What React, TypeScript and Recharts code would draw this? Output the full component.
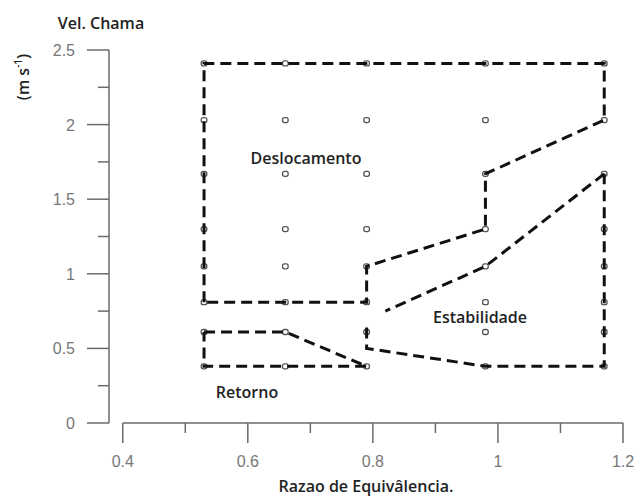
import React from 'react';
import { ScatterChart, Scatter, XAxis, YAxis, ReferenceLine } from 'recharts';

// razao de equivalencia dos ensaios e velocidades testadas (m/s)
const razoes = [0.53, 0.66, 0.79, 0.98, 1.17];
const velocidades = [0.38, 0.61, 0.81, 1.05, 1.3, 1.67, 2.03, 2.41];

// fronteiras tracejadas entre regimes
const limiteDeslocamento = [
  { x: 0.53, y: 0.81 },
  { x: 0.53, y: 2.41 },
  { x: 1.17, y: 2.41 },
  { x: 1.17, y: 2.03 },
  { x: 0.98, y: 1.67 },
  { x: 0.98, y: 1.3 },
  { x: 0.79, y: 1.05 },
  { x: 0.79, y: 0.81 },
  { x: 0.53, y: 0.81 },
];
const limiteEstabSup = [
  { x: 1.17, y: 1.67 },
  { x: 0.98, y: 1.05 },
  { x: 0.82, y: 0.75 },
];
const limiteEstabInf = [
  { x: 0.79, y: 0.64 },
  { x: 0.79, y: 0.5 },
  { x: 0.98, y: 0.38 },
  { x: 1.17, y: 0.38 },
  { x: 1.17, y: 1.67 },
];
const limiteRetorno = [
  { x: 0.53, y: 0.61 },
  { x: 0.66, y: 0.61 },
  { x: 0.79, y: 0.38 },
  { x: 0.53, y: 0.38 },
  { x: 0.53, y: 0.61 },
];

const xTicks = [0.4, 0.5, 0.6, 0.7, 0.8, 0.9, 1, 1.1, 1.2];
const xMajor = [0.4, 0.6, 0.8, 1, 1.2];
const yTicks = [0, 0.25, 0.5, 0.75, 1, 1.25, 1.5, 1.75, 2, 2.25, 2.5];
const yMajor = [0, 0.5, 1, 1.5, 2, 2.5];

const pontos = razoes.flatMap((x) => velocidades.map((y) => ({ x, y })));

const axisColor = '#6b6b6b';
const tickFont = '"Liberation Sans", Arial, sans-serif';
const isMajor = (list: number[], v: number) => list.some((m) => Math.abs(m - v) < 1e-6);

const XTick = (props: any) => {
  const { x, y, payload } = props;
  const major = isMajor(xMajor, payload.value);
  return (
    <g>
      <line x1={x} x2={x} y1={y} y2={y + (major ? 20 : 10)} stroke={axisColor} strokeWidth={1.5} />
      {major && (
        <text x={x} y={y + 44} textAnchor="middle" fill="#777" fontSize={16} fontFamily={tickFont}>
          {payload.value}
        </text>
      )}
    </g>
  );
};

const YTick = (props: any) => {
  const { x, y, payload } = props;
  const major = isMajor(yMajor, payload.value);
  return (
    <g>
      <line x1={x - (major ? 22 : 11)} x2={x} y1={y} y2={y} stroke={axisColor} strokeWidth={1.5} />
      {major && (
        <text x={x - 34} y={y + 6} textAnchor="end" fill="#777" fontSize={16} fontFamily={tickFont}>
          {payload.value}
        </text>
      )}
    </g>
  );
};

const Marker = (props: any) => {
  const { cx, cy } = props;
  return <rect x={cx - 2.8} y={cy - 2.5} width={5.6} height={5} rx={2} fill="#fff" stroke="#555" strokeWidth={1.3} />;
};

const dashLine = { stroke: '#111', strokeWidth: 3, strokeDasharray: '11 6' };
const noShape = () => <g />;

const labelStyle: React.CSSProperties = {
  position: 'absolute',
  transform: 'translate(-50%, -50%)',
  fontFamily: '"Open Sans", "Noto Sans", sans-serif',
  fontWeight: 600,
  fontSize: 16,
  color: '#222',
  whiteSpace: 'nowrap',
  lineHeight: 1,
};

export default function App() {
  return (
    <div style={{ position: 'absolute', left: 0, top: 0, width: 634, height: 498, background: '#fff' }}>
      <ScatterChart width={634} height={498} margin={{ top: 50, right: 11, bottom: 35, left: 49 }}>
        <XAxis
          type="number"
          dataKey="x"
          domain={[0.378, 1.2]}
          allowDataOverflow
          ticks={xTicks}
          interval={0}
          axisLine={false}
          tickLine={false}
          tickSize={0}
          tickMargin={0}
          height={40}
          tick={<XTick />}
        />
        <YAxis
          type="number"
          dataKey="y"
          domain={[0, 2.5]}
          allowDataOverflow
          ticks={yTicks}
          interval={0}
          axisLine={{ stroke: axisColor, strokeWidth: 1.5 }}
          tickLine={false}
          tickSize={0}
          tickMargin={0}
          width={60}
          tick={<YTick />}
        />
        <ReferenceLine
          segment={[{ x: 0.4, y: 0 }, { x: 1.2, y: 0 }]}
          stroke={axisColor}
          strokeWidth={1.5}
          ifOverflow="visible"
        />
        <Scatter data={pontos} shape={<Marker />} isAnimationActive={false} />
        <Scatter data={limiteDeslocamento} line={dashLine} shape={noShape} isAnimationActive={false} />
        <Scatter data={limiteEstabSup} line={dashLine} shape={noShape} isAnimationActive={false} />
        <Scatter data={limiteEstabInf} line={dashLine} shape={noShape} isAnimationActive={false} />
        <Scatter data={limiteRetorno} line={dashLine} shape={noShape} isAnimationActive={false} />
      </ScatterChart>

      <div style={{ ...labelStyle, left: 101, top: 23 }}>Vel. Chama</div>
      <div style={{ ...labelStyle, left: 22, top: 77, transform: 'translate(-50%, -50%) rotate(-90deg)' }}>
        (m s<sup style={{ fontSize: 10 }}>-1</sup>)
      </div>
      <div style={{ ...labelStyle, left: 306, top: 158 }}>Deslocamento</div>
      <div style={{ ...labelStyle, left: 480, top: 317 }}>Estabilidade</div>
      <div style={{ ...labelStyle, left: 247, top: 392 }}>Retorno</div>
      <div style={{ ...labelStyle, left: 366, top: 486 }}>Razao de Equivâlencia.</div>
    </div>
  );
}
